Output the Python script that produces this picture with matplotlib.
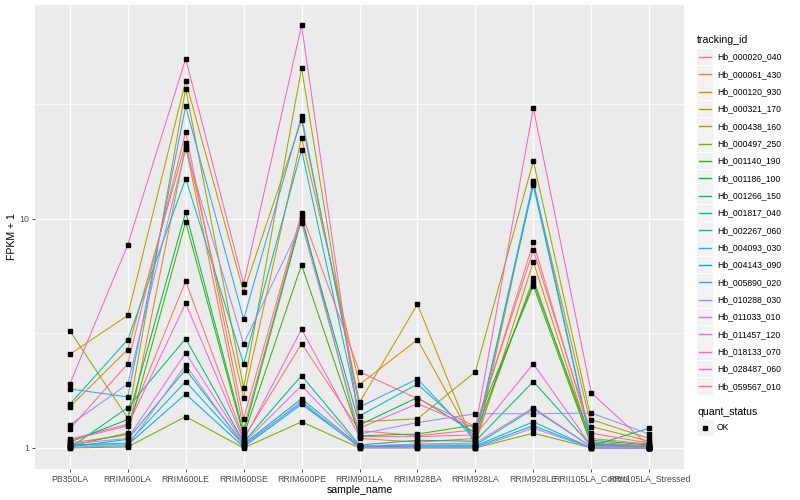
import matplotlib
matplotlib.use("Agg")
import matplotlib.pyplot as plt
from matplotlib.patches import Rectangle
from matplotlib.lines import Line2D

plt.rcParams["font.family"] = ["Liberation Sans", "DejaVu Sans"]

sample_names = ["PB350LA", "RRIM600LA", "RRIM600LE", "RRIM600SE", "RRIM600PE",
                "RRIM901LA", "RRIM928BA", "RRIM928LA", "RRIM928LE",
                "RRII105LA_Control", "RRII105LA_Stressed"]

tracking_ids = ["Hb_000020_040", "Hb_000061_430", "Hb_000120_930", "Hb_000321_170",
                "Hb_000438_160", "Hb_000497_250", "Hb_001140_190", "Hb_001186_100",
                "Hb_001266_150", "Hb_001817_040", "Hb_002267_060", "Hb_004093_030",
                "Hb_004143_090", "Hb_005890_020", "Hb_010288_030", "Hb_011033_010",
                "Hb_011457_120", "Hb_018133_070", "Hb_028487_060", "Hb_059567_010"]

# ggplot hue palette, 20 levels
colors = ["#F8766D", "#EA8331", "#D89000", "#C09B00", "#A3A500", "#7CAE00",
          "#39B600", "#00BB4E", "#00BF7D", "#00C1A3", "#00BFC4", "#00BAE0",
          "#00B0F6", "#35A2FF", "#9590FF", "#C77CFF", "#E76BF3", "#FA62DB",
          "#FF62BC", "#FF6C91"]

# FPKM + 1 per gene, one value per sample
hb_000020_040 = [1.09, 1.27, 5.35, 1.10, 2.85, 1.19, 1.13, 1.20, 7.9, 1.10, 1.04]
hb_000061_430 = [1.05, 1.14, 20.8, 1.21, 10.3, 1.10, 1.06, 1.10, 5.5, 1.03, 1.00]
hb_000120_930 = [1.51, 2.69, 21.5, 1.66, 22.6, 1.89, 2.97, 1.04, 6.5, 1.06, 1.02]
hb_000321_170 = [2.56, 3.79, 40.0, 4.80, 27.0, 1.58, 4.24, 1.00, 14.3, 1.24, 1.07]
hb_000438_160 = [3.25, 1.35, 37.0, 1.83, 45.5, 1.30, 1.34, 2.15, 17.9, 1.33, 1.10]
hb_000497_250 = [1.00, 1.01, 1.37, 1.00, 1.30, 1.00, 1.00, 1.00, 1.16, 1.00, 1.00]
hb_001140_190 = [1.02, 1.16, 9.7, 1.13, 6.3, 1.13, 1.15, 1.26, 5.1, 1.03, 1.00]
hb_001186_100 = [1.06, 1.33, 10.7, 1.16, 10.0, 1.26, 1.66, 1.16, 5.3, 1.08, 1.03]
hb_001266_150 = [1.00, 1.50, 3.0, 1.06, 2.07, 1.03, 1.08, 1.07, 1.95, 1.02, 1.22]
hb_001817_040 = [1.01, 1.09, 2.2, 1.04, 1.64, 1.02, 1.03, 1.03, 1.48, 1.01, 1.00]
hb_002267_060 = [1.55, 2.97, 15.0, 2.33, 20.0, 1.38, 1.90, 1.12, 14.0, 1.04, 1.01]
hb_004093_030 = [1.03, 1.05, 1.95, 1.03, 1.58, 1.01, 1.02, 1.02, 1.30, 1.00, 1.00]
hb_004143_090 = [1.03, 1.03, 1.72, 1.01, 1.55, 1.01, 1.01, 1.01, 1.25, 1.00, 1.00]
hb_005890_020 = [1.81, 1.67, 31.0, 3.65, 28.0, 1.51, 2.00, 1.08, 14.6, 1.05, 1.01]
hb_010288_030 = [1.26, 1.90, 20.2, 2.85, 9.6, 1.15, 1.29, 1.41, 1.41, 1.42, 1.15]
hb_011033_010 = [1.01, 1.02, 2.3, 1.02, 1.60, 1.00, 1.00, 1.00, 1.22, 1.00, 1.00]
hb_011457_120 = [1.04, 1.10, 2.6, 1.05, 1.87, 1.02, 1.04, 1.05, 1.50, 1.01, 1.00]
hb_018133_070 = [1.08, 1.25, 4.28, 1.08, 3.3, 1.12, 1.12, 1.14, 2.33, 1.02, 1.00]
hb_028487_060 = [1.90, 7.7, 50.0, 5.2, 70.0, 1.22, 1.56, 1.22, 30.4, 1.74, 1.02]
hb_059567_010 = [1.21, 2.33, 24.0, 1.34, 10.6, 2.15, 1.64, 1.24, 7.3, 1.16, 1.05]

series = [hb_000020_040, hb_000061_430, hb_000120_930, hb_000321_170, hb_000438_160,
          hb_000497_250, hb_001140_190, hb_001186_100, hb_001266_150, hb_001817_040,
          hb_002267_060, hb_004093_030, hb_004143_090, hb_005890_020, hb_010288_030,
          hb_011033_010, hb_011457_120, hb_018133_070, hb_028487_060, hb_059567_010]

W, H = 800, 500
fig = plt.figure(figsize=(W / 100, H / 100), dpi=100)
ax = fig.add_axes([35 / W, 1 - 469 / H, (684 - 35) / W, (469 - 5) / H])
ax.set_facecolor("#EBEBEB")

x = list(range(len(sample_names)))
for vals, col in zip(series, colors):
    ax.plot(x, vals, color=col, lw=0.75, zorder=3)
for vals in series:
    ax.plot(x, vals, ls="none", marker="s", ms=2.2, color="black", zorder=4)

ax.set_yscale("log")
ax.set_ylim(10 ** -0.092, 10 ** 1.934)
ax.set_xlim(-0.6, len(sample_names) - 0.4)
ax.set_yticks([1, 10])
ax.set_yticklabels(["1", "10"])
ax.set_yticks([10 ** 0.5, 10 ** 1.5], minor=True)
ax.yaxis.set_minor_formatter(plt.NullFormatter())
ax.set_xticks(x)
ax.set_xticklabels(sample_names)

ax.grid(True, which="major", color="white", lw=1.0, zorder=1)
ax.grid(True, which="minor", axis="y", color="white", lw=0.5, zorder=1)
for s in ax.spines.values():
    s.set_visible(False)
ax.tick_params(which="major", length=2.5, width=0.6, color="#333333",
               labelsize=6.3, labelcolor="#4D4D4D", pad=1.5)
ax.tick_params(which="minor", length=0)

ax.set_xlabel("sample_name", fontsize=7.6, labelpad=1)
ax.set_ylabel("FPKM + 1", fontsize=7.6, labelpad=2)


# legend, drawn by hand in pixel coords (ggplot style keys)
def px(xp, yp):
    return xp / W, 1 - yp / H


fig.text(*px(697, 40), "tracking_id", fontsize=7.6, va="center", ha="left")
for i, (name, col) in enumerate(zip(tracking_ids, colors)):
    yc = 57 + 17.33 * i
    fig.add_artist(Rectangle(px(697, yc + 8.3), 16 / W, 16.6 / H,
                             transform=fig.transFigure, facecolor="#F2F2F2",
                             edgecolor="none"))
    fig.add_artist(Line2D([699 / W, 711 / W], [1 - yc / H] * 2,
                          transform=fig.transFigure, color=col, lw=1.0))
    fig.text(*px(717, yc), name, fontsize=6.2, va="center", ha="left")

fig.text(*px(697, 412), "quant_status", fontsize=7.6, va="center", ha="left")
fig.add_artist(Rectangle(px(697, 436.3), 16 / W, 16.6 / H,
                         transform=fig.transFigure, facecolor="#F2F2F2",
                         edgecolor="none"))
fig.add_artist(Line2D([705 / W], [1 - 428 / H], transform=fig.transFigure,
                      marker="s", ms=2.2, color="black", ls="none"))
fig.text(*px(717, 428), "OK", fontsize=6.2, va="center", ha="left")

fig.savefig("out.png", dpi=100)
